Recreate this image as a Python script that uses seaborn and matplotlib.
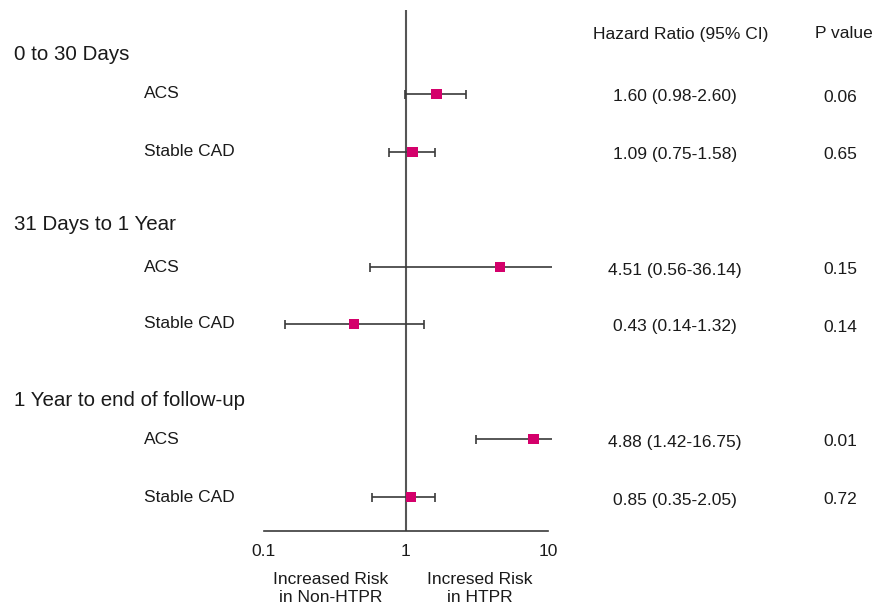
import matplotlib
matplotlib.use("Agg")
import matplotlib.pyplot as plt
import seaborn as sns
import pandas as pd

sns.set_style("white")
plt.rcParams["font.family"] = ["Liberation Sans", "DejaVu Sans"]
plt.rcParams["text.color"] = "#1a1a1a"
plt.rcParams["xtick.color"] = "#1a1a1a"

# ==================================
# DATA
# ==================================
GROUPS = ["0 to 30 Days", "31 Days to 1 Year", "1 Year to end of follow-up"]
SUBGROUPS = ["ACS", "Stable CAD", "ACS", "Stable CAD", "ACS", "Stable CAD"]

# positions as drawn in the figure
HR_PLOT = [1.64, 1.11, 4.6, 0.43, 7.9, 1.09]
LO_PLOT = [0.99, 0.76, 0.56, 0.14, 3.1, 0.58]
HI_PLOT = [2.63, 1.60, 10.6, 1.34, 10.6, 1.61]

HR_TEXT = [
    "1.60 (0.98-2.60)",
    "1.09 (0.75-1.58)",
    "4.51 (0.56-36.14)",
    "0.43 (0.14-1.32)",
    "4.88 (1.42-16.75)",
    "0.85 (0.35-2.05)",
]
P_TEXT = ["0.06", "0.65", "0.15", "0.14", "0.01", "0.72"]

TICKS = [0.1, 1, 10]
TICK_LABELS = ["0.1", "1", "10"]
MINOR_TICKS = [0.3, 0.5, 0.7, 0.9, 3, 5, 7, 8, 9]

# ==================================
# LAYOUT (pixels)
# ==================================
W, H = 877, 608
ROW_Y = [94, 152, 267, 324, 439, 497]
GROUP_Y = [55, 224, 400]
AX_TOP, AX_BOTTOM = 10, 531
AX_LEFT, AX_RIGHT = 264, 548

LINE_COL = "#3a3a3a"
MARK_COL = "#d4006b"
FS = 12.5
GROUP_FS = 14.8


def fx(x):
    return x / W


def fy(y):
    return 1 - y / H


df = pd.DataFrame({
    "sub": SUBGROUPS,
    "hr": HR_PLOT,
    "lo": LO_PLOT,
    "hi": HI_PLOT,
    "y": ROW_Y,
})

fig = plt.figure(figsize=(W / 100, H / 100), dpi=100)
ax = fig.add_axes([
    fx(AX_LEFT),
    fy(AX_BOTTOM),
    fx(AX_RIGHT - AX_LEFT),
    (AX_BOTTOM - AX_TOP) / H,
])

ax.set_xscale("log")
ax.set_xlim(0.1, 10)
ax.set_ylim(AX_BOTTOM, AX_TOP)

# reference line at 1
ax.axvline(1, color="#555555", lw=1.5, zorder=1)

# confidence intervals
for _, r in df.iterrows():
    ax.hlines(r["y"], r["lo"], r["hi"], color=LINE_COL, lw=1.2,
              clip_on=False, zorder=2)
    ax.vlines(r["lo"], r["y"] - 4.5, r["y"] + 4.5, color=LINE_COL,
              lw=1.2, clip_on=False, zorder=2)
    if r["hi"] <= 10:
        ax.vlines(r["hi"], r["y"] - 4.5, r["y"] + 4.5, color=LINE_COL,
                  lw=1.2, clip_on=False, zorder=2)

sns.scatterplot(
    data=df,
    x="hr",
    y="y",
    marker="s",
    s=55,
    color=MARK_COL,
    edgecolor="none",
    ax=ax,
    zorder=3,
    clip_on=False,
)

# axes styling
for side in ["top", "right", "left"]:
    ax.spines[side].set_visible(False)
ax.spines["bottom"].set_color(LINE_COL)
ax.spines["bottom"].set_linewidth(1.2)
ax.set_yticks([])
ax.set_xticks(TICKS)
ax.set_xticklabels(TICK_LABELS)
ax.set_xticks(MINOR_TICKS, minor=True)
ax.xaxis.set_minor_formatter(plt.NullFormatter())
ax.tick_params(axis="x", which="major", direction="out", length=9,
               width=1.2, color=LINE_COL, labelsize=FS, pad=0.5)
ax.tick_params(axis="x", which="minor", direction="out", length=4,
               width=1.2, color=LINE_COL)
ax.set_xlabel("")
ax.set_ylabel("")

# ==================================
# TEXT
# ==================================
for g, gy in zip(GROUPS, GROUP_Y):
    fig.text(fx(14), fy(gy), g, fontsize=GROUP_FS, va="center", ha="left")

for sub, ry, hr, p in zip(SUBGROUPS, ROW_Y, HR_TEXT, P_TEXT):
    fig.text(fx(144), fy(ry), sub, fontsize=FS, va="center", ha="left")
    fig.text(fx(675), fy(ry + 3), hr, fontsize=FS, va="center", ha="center")
    fig.text(fx(840), fy(ry + 3), p, fontsize=FS, va="center", ha="center")

fig.text(fx(681), fy(34), "Hazard Ratio (95% CI)", fontsize=FS,
         va="center", ha="center")
fig.text(fx(844), fy(34), "P value", fontsize=FS, va="center", ha="center")

fig.text(fx(331), fy(579), "Increased Risk", fontsize=FS, va="center", ha="center")
fig.text(fx(331), fy(598), "in Non-HTPR", fontsize=FS, va="center", ha="center")
fig.text(fx(480), fy(579), "Incresed Risk", fontsize=FS, va="center", ha="center")
fig.text(fx(480), fy(598), "in HTPR", fontsize=FS, va="center", ha="center")

fig.savefig("out.png", dpi=100)
